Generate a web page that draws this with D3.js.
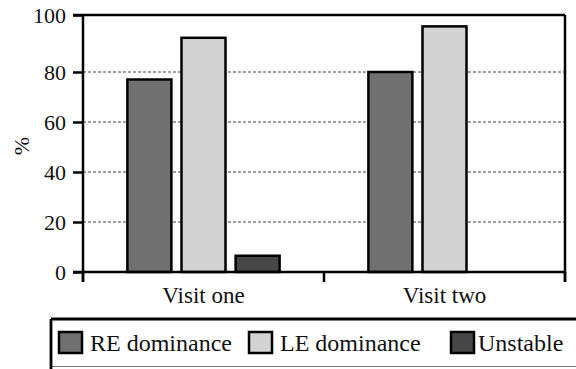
<!DOCTYPE html>
<html><head><meta charset="utf-8">
<script src="https://cdn.jsdelivr.net/npm/d3@7"></script>
<style>
html,body{margin:0;padding:0;background:#fff;}
#chart text{font-family:'Liberation Serif','Times New Roman',Times,serif !important;}
</style></head>
<body>
<svg id="chart" width="576" height="369" font-family="Liberation Serif"></svg>
<script>
const categories = ["Visit one", "Visit two"];
const seriesNames = ["RE dominance", "LE dominance", "Unstable"];
const reValues = [77, 80];
const leValues = [92, 96];
const unstableValues = [6.5, 0];
const yTickValues = [0, 20, 40, 60, 80, 100];
const yTickLabels = ["0", "20", "40", "60", "80", "100"];
const colors = ["#707070", "#d3d3d3", "#474747"];

(function () {
const seriesValues = [reValues, leValues, unstableValues];
const svg = d3.select("#chart");
const pLeft = 83, pRight = 565, pTop = 15, pBottom = 272, tickLen = 10;

const y = d3.scaleLinear().domain([0, 80, 100]).range([pBottom, 72, pTop]);
const x0 = d3.scaleBand().domain(categories).range([pLeft, pRight]).paddingInner(0.36).paddingOuter(0.18);
const x1 = d3.scaleBand().domain(seriesNames).range([0, x0.bandwidth()]).paddingInner(0.15);
const color = d3.scaleOrdinal().domain(seriesNames).range(colors);

// gridlines
svg.append("g").selectAll("line").data([20, 40, 60, 80]).join("line")
  .attr("x1", pLeft).attr("x2", pRight)
  .attr("y1", d => y(d)).attr("y2", d => y(d))
  .attr("stroke", "#444").attr("stroke-width", 1).attr("stroke-dasharray", "3,2");

// bars
const rows = [];
categories.forEach((c, i) => seriesNames.forEach((s, j) => rows.push({c, s, v: seriesValues[j][i]})));
svg.append("g").selectAll("rect").data(rows.filter(d => d.v > 0)).join("rect")
  .attr("x", d => x0(d.c) + x1(d.s) + 1)
  .attr("width", x1.bandwidth() - 2)
  .attr("y", d => y(d.v))
  .attr("height", d => y(0) - y(d.v))
  .attr("fill", d => color(d.s))
  .attr("stroke", "#000").attr("stroke-width", 2.5);

// frame: top and right
svg.append("line").attr("x1", pLeft - tickLen).attr("x2", pRight).attr("y1", pTop).attr("y2", pTop)
  .attr("stroke", "#000").attr("stroke-width", 2.5);
svg.append("line").attr("x1", pRight).attr("x2", pRight).attr("y1", pTop).attr("y2", pBottom + tickLen)
  .attr("stroke", "#000").attr("stroke-width", 2.5);

// y axis
const yAxis = d3.axisLeft(y).tickValues(yTickValues).tickFormat((d, i) => yTickLabels[i])
  .tickSize(tickLen).tickSizeOuter(0).tickPadding(7);
const gy = svg.append("g").attr("transform", `translate(${pLeft},0)`).call(yAxis);
gy.attr("font-family", "Liberation Serif").attr("font-size", 22);
gy.select(".domain").remove();
gy.selectAll(".tick line").attr("stroke", "#000").attr("stroke-width", 2.5);
gy.selectAll(".tick text").attr("font-family", "Liberation Serif").attr("font-size", 22).attr("fill", "#111");
svg.append("line").attr("x1", pLeft).attr("x2", pLeft).attr("y1", pTop).attr("y2", pBottom + tickLen)
  .attr("stroke", "#000").attr("stroke-width", 2.5);

// x axis
svg.append("line").attr("x1", pLeft - tickLen).attr("x2", pRight).attr("y1", pBottom).attr("y2", pBottom)
  .attr("stroke", "#000").attr("stroke-width", 2.5);
const boundaries = [pLeft, ...categories.slice(1).map(c => x0(c) - x0.step() * x0.paddingInner() / 2), pRight];
svg.append("g").selectAll("line").data(boundaries).join("line")
  .attr("x1", d => d).attr("x2", d => d).attr("y1", pBottom).attr("y2", pBottom + tickLen)
  .attr("stroke", "#000").attr("stroke-width", 2.5);
svg.append("g").selectAll("text").data(categories).join("text")
  .attr("x", d => x0(d) + x0.bandwidth() / 2)
  .attr("y", 303)
  .attr("text-anchor", "middle").attr("font-family", "Liberation Serif").attr("font-size", 23).attr("fill", "#111")
  .text(d => d);

// y title
svg.append("text").attr("transform", "translate(29,146) rotate(-90)")
  .attr("text-anchor", "middle").attr("font-family", "Liberation Serif").attr("font-size", 22).attr("fill", "#111").text("%");

// legend
const lg = svg.append("g");
lg.append("line").attr("x1", 51).attr("x2", 576).attr("y1", 366.5).attr("y2", 366.5)
  .attr("stroke", "#777").attr("stroke-width", 1.2);
lg.append("line").attr("x1", 51).attr("x2", 576).attr("y1", 319).attr("y2", 319)
  .attr("stroke", "#000").attr("stroke-width", 2.8);
lg.append("line").attr("x1", 51).attr("x2", 51).attr("y1", 319).attr("y2", 369)
  .attr("stroke", "#000").attr("stroke-width", 2.8);
const legendX = [58, 248, 450];
const items = lg.selectAll("g.item").data(seriesNames).join("g").attr("class", "item")
  .attr("transform", (d, i) => `translate(${legendX[i]},331)`);
items.append("rect").attr("x", 1).attr("y", 1).attr("width", 23).attr("height", 21)
  .attr("fill", d => color(d)).attr("stroke", "#000").attr("stroke-width", 2.5);
items.append("text").attr("x", (d, i) => i === 2 ? 28 : 32).attr("y", 20)
  .attr("font-family", "Liberation Serif").attr("font-size", 24).attr("fill", "#111").text(d => d);
})();
</script>
</body></html>
